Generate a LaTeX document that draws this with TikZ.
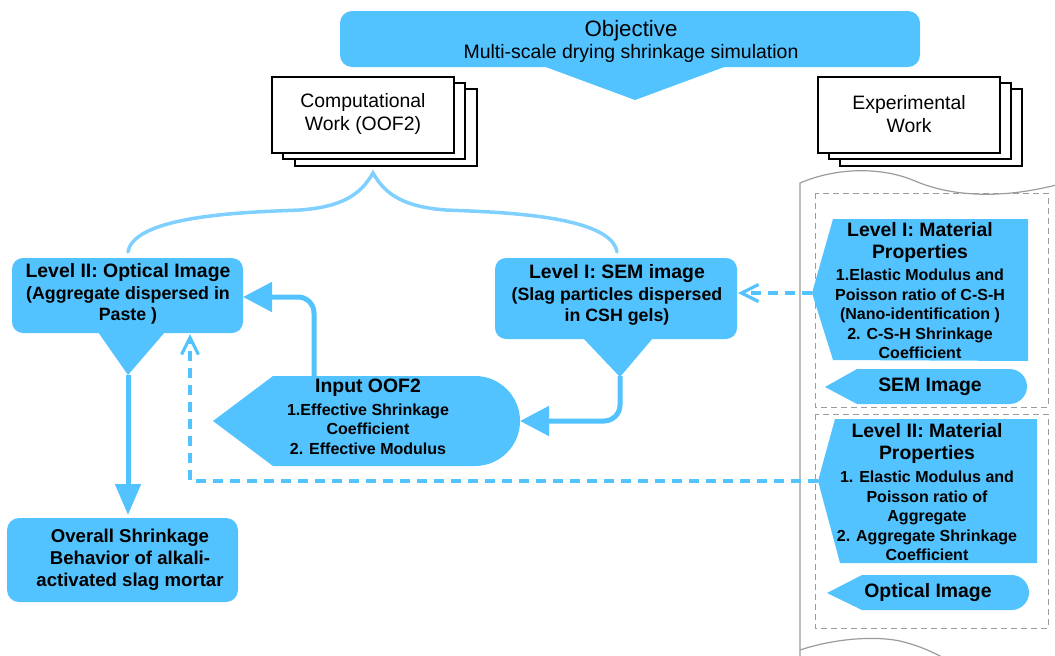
\documentclass[tikz,border=0pt]{standalone}
\usepackage{fontspec}
\setmainfont{Liberation Sans}
\usetikzlibrary{arrows.meta}
\definecolor{skyb}{RGB}{82,195,255}
\definecolor{braceb}{RGB}{128,208,255}
\definecolor{docgray}{RGB}{155,155,155}
\newcommand{\fsz}[2]{\fontsize{#1}{#2}\selectfont}
\begin{document}
\begin{tikzpicture}[x=1pt,y=-1pt,
  stackbox/.style={draw=black, fill=white, line width=1.3pt},
  plain/.style={inner sep=0pt, align=center, text=black},
  bt/.style={plain, font=\bfseries\fsz{17.8}{21.5}},
  bodyt/.style={plain, font=\bfseries\fsz{16}{19.6}},
  titlet/.style={plain, font=\bfseries\fsz{19.4}{22}},
  thickarrow/.style={draw=skyb, line width=5pt, -{Triangle[length=29pt,width=29pt]}},
  downarrow/.style={draw=skyb, line width=5pt, -{Triangle[length=31pt,width=25pt]}},
  dasharrow/.style={draw=skyb, line width=3.2pt, dash pattern=on 10pt off 7pt, -{Straight Barb[length=17pt,width=17pt]}},
  bracel/.style={draw=braceb, line width=3.5pt, line cap=round},
  docline/.style={draw=docgray, line width=1.2pt},
  dashbox/.style={draw=docgray, line width=1pt, dash pattern=on 6pt off 4pt}
]
\useasboundingbox (0,0) rectangle (1055,656);
\clip (0,0) rectangle (1055,656);

% ---------- experimental document shape ----------
\draw[docline] (800,660) -- (800,183) .. controls (835,168) and (880,166) .. (915,181) .. controls (950,196) and (1000,200) .. (1060,184);
\draw[docline] (800,650) .. controls (830,640) and (870,635) .. (900,641) .. controls (925,647) and (940,656) .. (955,664);
\draw[dashbox] (815,193) rectangle (1048,407);
\draw[dashbox] (815,414) rectangle (1048,628);

% ---------- objective ----------
\fill[skyb, rounded corners=12pt] (340,11) rectangle (920,67);
\fill[skyb] (543,66) -- (727,66) -- (635,100) -- cycle;
\node[plain, font=\fsz{22.3}{26}] (obj) at (631,31) {Objective};
\node[plain, font=\fsz{19.5}{22}] (objsub) at (631,53) {Multi-scale drying shrinkage simulation};

% ---------- stacked boxes ----------
\draw[stackbox] (295,89) rectangle (477,166);
\draw[stackbox] (283,83) rectangle (465,159);
\draw[stackbox] (272,77) rectangle (454,153);
\node[plain, font=\fsz{19.4}{23}] (comp) at (363,114) {Computational\\Work (OOF2)};

\draw[stackbox] (840,89) rectangle (1022,166);
\draw[stackbox] (829,83) rectangle (1011,159);
\draw[stackbox] (818,77) rectangle (1000,153);
\node[plain, font=\fsz{19.4}{23}] (exp) at (909,114) {Experimental\\Work};

% ---------- brace ----------
\coordinate (apex) at (373,173);
\coordinate (bl) at (128,252);
\coordinate (br) at (617,252);
\draw[bracel] (bl) .. controls (134,214) and (255,212) .. (300,210) .. controls (340,207) and (360,196) .. (apex)
  .. controls (386,196) and (406,207) .. (446,210) .. controls (491,212) and (611,214) .. (br);

% ---------- Level II optical image ----------
\fill[skyb, rounded corners=11pt] (12,258) rectangle (243,333);
\fill[skyb] (98,332) -- (165,332) -- (128,375) -- cycle;
\node[bt] (l2o) at (128,294) {{\fsz{19.4}{21.5}Level II: Optical Image}\\(Aggregate dispersed in\\Paste )};
\coordinate (l2oeast) at (243,297);
\coordinate (l2otip) at (128,375);
\coordinate (l2obot) at (190,334);

% ---------- Level I SEM image ----------
\fill[skyb, rounded corners=11pt] (495,258) rectangle (737,339);
\fill[skyb] (583,338) -- (653,338) -- (620,377) -- cycle;
\node[bt] (l1s) at (617,295) {{\fsz{19.4}{21.5}Level I: SEM image}\\(Slag particles dispersed\\in CSH gels)};
\coordinate (l1seast) at (738,293);
\coordinate (l1stip) at (620,376);

% ---------- Input OOF2 ----------
\fill[skyb] (213,421) -- (273,376) [rounded corners=45pt] -- (520,376) -- (520,466) [sharp corners] -- (273,466) -- cycle;
\node[titlet] (inpt) at (368,388) {Input OOF2};
\node[bodyt] (inpb) at (368,429) {1.Effective Shrinkage\\Coefficient\\2. Effective Modulus};
\coordinate (inptop) at (314,377);
\coordinate (inpeast) at (520,421);

% ---------- Overall ----------
\fill[skyb, rounded corners=12pt] (7,518) rectangle (238,602);
\node[plain, font=\bfseries\fsz{18.6}{22}] (ov) at (130,560) {Overall Shrinkage\\Behavior of alkali-\\activated slag mortar};
\coordinate (ovtop) at (128,515);

% ---------- Level I material ----------
\fill[skyb] (833,219) -- (1028,219) -- (1028,361) -- (833,360) -- (812,293) -- cycle;
\node[titlet] (l1mt) at (920,242) {Level I: Material\\Properties};
\node[bodyt] (l1mb) at (920,314) {1.Elastic Modulus and\\Poisson ratio of C-S-H\\(Nano-identification )\\2. C-S-H Shrinkage\\Coefficient};
\coordinate (l1mleft) at (812,293);

\fill[skyb] (825,387) -- (857,369) [rounded corners=17.5pt] -- (1027,369) -- (1027,404) [sharp corners] -- (857,404) -- cycle;
\node[titlet] (sem) at (930,387) {SEM Image};

% ---------- Level II material ----------
\fill[skyb] (835,419) -- (1037,419) -- (1037,563) -- (840,563) -- (818,481) -- cycle;
\node[titlet] (l2mt) at (927,443) {Level II: Material\\Properties};
\node[bodyt] (l2mb) at (927,516) {1. Elastic Modulus and\\Poisson ratio of\\Aggregate\\2. Aggregate Shrinkage\\Coefficient};
\coordinate (l2mleft) at (818,481);

\fill[skyb] (827,593) -- (862,575) [rounded corners=17.5pt] -- (1029,575) -- (1029,610) [sharp corners] -- (862,610) -- cycle;
\node[titlet] (opt) at (928,593) {Optical Image};

% ---------- connectors ----------
\draw[thickarrow, rounded corners=16pt] (inptop) |- (l2oeast);
\draw[thickarrow, rounded corners=16pt] (l1stip) |- (inpeast);
\draw[downarrow] (l2otip) -- (ovtop);
\draw[dasharrow] (l1mleft) -- (l1seast);
\draw[dasharrow] (l2mleft) -| (l2obot);
\end{tikzpicture}
\end{document}
